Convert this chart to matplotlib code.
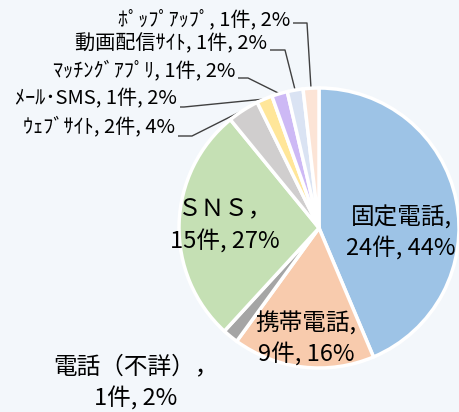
import numpy as np
import matplotlib
matplotlib.use('Agg')
import matplotlib.pyplot as plt

plt.rcParams['font.family'] = ['Noto Sans CJK JP', 'DejaVu Sans']

# data, clockwise from 12 o'clock
names = ['固定電話', '携帯電話', '電話（不詳）', 'ＳＮＳ', 'ｳｪﾌﾞｻｲﾄ',
         'ﾒｰﾙ･SMS', 'ﾏｯﾁﾝｸﾞｱﾌﾟﾘ', '動画配信ｻｲﾄ', 'ﾎﾟｯﾌﾟｱｯﾌﾟ']
counts = [24, 9, 1, 15, 2, 1, 1, 1, 1]
colors = ['#9DC3E6', '#F8CBAD', '#A5A5A5', '#C5E0B4', '#D0CECE',
          '#FFE699', '#CDB9F5', '#DAE3F3', '#FCE4D6']

W, H = 460, 412
BG = '#F3F7FB'
cx, cy, R = 319, 228, 140   # pie centre / radius in image pixels

fig = plt.figure(figsize=(W / 100, H / 100), dpi=100, facecolor=BG)
ax = fig.add_axes([0, 0, 1, 1])
ax.set_facecolor(BG)

wedges, _ = ax.pie(counts, colors=colors, startangle=90, counterclock=False,
                   center=(cx, H - cy), radius=R,
                   wedgeprops=dict(edgecolor='white', linewidth=2.5))
ax.set_xlim(0, W)
ax.set_ylim(0, H)
ax.set_aspect('equal')
ax.axis('off')

total = sum(counts)
pcts = [round(100 * c / total) for c in counts]

# labels inside / near the big slices: (x, y) centre in image px
inner = {0: (401, 233), 1: (306, 339), 2: (136, 383), 3: (225, 226)}
inner_sep = {0: ',\n', 1: ',\n', 2: '，\n', 3: '，\n'}
for i, (x, y) in inner.items():
    txt = f"{names[i]}{inner_sep[i]}{counts[i]}件, {pcts[i]}%"
    ax.text(x, H - y, txt, ha='center', va='center', fontsize=17,
            linespacing=1.4, color='black')

# small slices with leader lines: text right end, text y, knee x, line y
outer = {
    8: (290, 20, 307, 23),
    7: (267, 44, 285, 50),
    6: (235, 71, 248, 78),
    5: (177, 99, 184, 107),
    4: (175, 127, 192, 136),
}
for i, (xe, ty, kx, ly) in outer.items():
    txt = f"{names[i]}, {counts[i]}件, {pcts[i]}%"
    ax.text(xe, H - ty, txt, ha='right', va='center', fontsize=14.5,
            color='black')
    w = wedges[i]
    mid = np.deg2rad((w.theta1 + w.theta2) / 2)
    px = cx + R * np.cos(mid)
    py = H - cy + R * np.sin(mid)
    ax.plot([xe + 3, kx, px], [H - ly, H - ly, py], color='#404040',
            linewidth=1, solid_capstyle='butt', zorder=0.5)

fig.savefig('out.png', dpi=100, facecolor=BG)
